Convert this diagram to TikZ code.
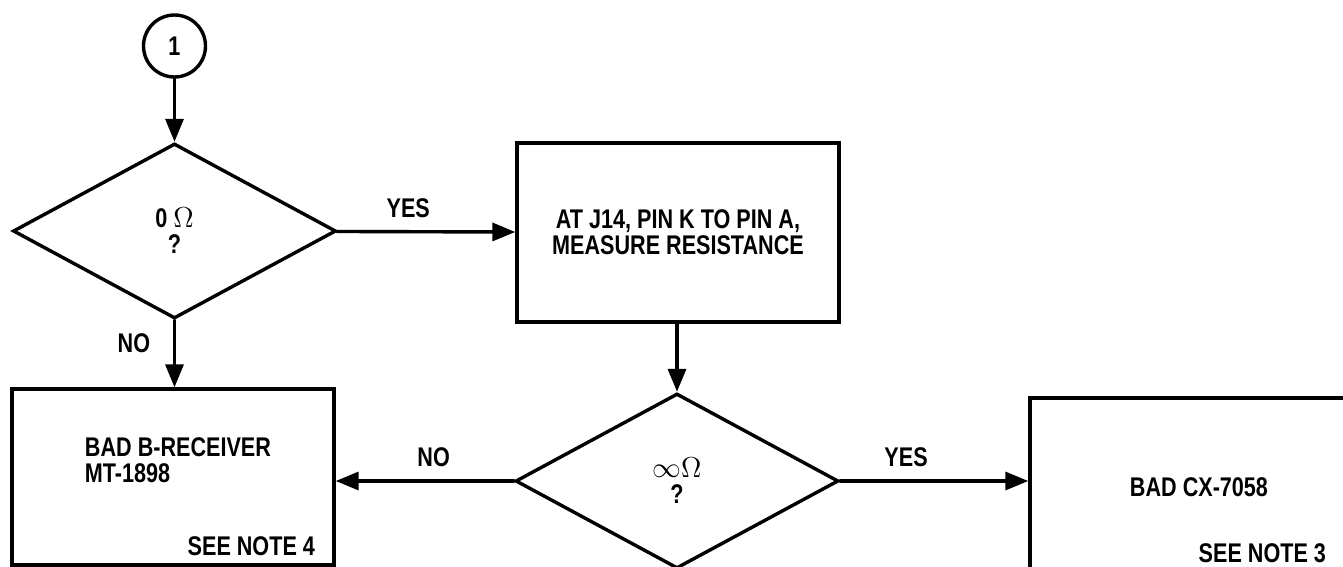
\documentclass[tikz,border=0pt]{standalone}
\usepackage{fontspec}
\setmainfont{Liberation Sans}[FakeStretch=0.8]
\usepackage{tikz}
\usetikzlibrary{arrows.meta,calc,positioning,shapes.geometric}
\tikzset{
  decv/.style={diamond, draw, line width=1.7pt, minimum width=161.5pt, minimum height=87.5pt, inner sep=0pt, align=center},
  boxv/.style={rectangle, draw, line width=1.7pt, inner sep=0pt, align=center},
  conv/.style={circle, draw, line width=1.7pt, minimum size=31pt, inner sep=0pt},
  flow/.style={line width=1.7pt, -{Triangle[length=11.5pt,width=9pt]}},
  lbl/.style={font=\bfseries\fontsize{13.5}{13}\selectfont},
  every picture/.style={line cap=round, line join=miter}
}

\begin{document}
\begin{tikzpicture}[x=0.5pt,y=-0.5pt]
  \useasboundingbox (0,0) rectangle (1343,567);

  % connector and first test
  \node[conv,lbl] (one) at (174.5,46) {1};
  \node[decv,lbl] (ohmz) at (174.5,231) {0 $\Omega$\\?};

  % measurement
  \node[boxv,lbl,minimum width=161pt,minimum height=89.5pt] (meas) at (678,232.5) {AT J14, PIN K TO PIN A,\\MEASURE RESISTANCE};
  \node[decv,lbl] (ohminf) at (677,481) {$\infty\Omega$\\?};

  % results
  \node[boxv,minimum width=161pt,minimum height=88pt] (rcvr) at (173,477) {};
  \node[lbl,align=left] (rcvrtxt) at (178,460) {BAD B-RECEIVER\\MT-1898};
  \node[lbl,anchor=base east] (note4) at (322,555) {SEE NOTE 4};

  \node[boxv,minimum width=167.5pt,minimum height=96pt] (cx) at (1197.5,494) {};
  \node[lbl] (cxtxt) at (1199,487) {BAD CX-7058};
  \node[lbl,anchor=base east] (note3) at (1333,562) {SEE NOTE 3};

  % flow
  \draw[flow] (one) -- (ohmz);
  \draw[flow] (ohmz) -- node[lbl,above=3pt,pos=0.4] {YES} (meas);
  \draw[flow] (ohmz) -- node[lbl,left=8pt,pos=0.35] {NO} (ohmz |- rcvr.north);
  \draw[flow] (meas.south -| ohminf) -- (ohminf);
  \draw[flow] (ohminf) -- node[lbl,above=3pt,pos=0.45] {NO} (rcvr.east |- ohminf);
  \draw[flow] (ohminf) -- node[lbl,above=3pt,pos=0.35] {YES} (cx.west |- ohminf);
\end{tikzpicture}
\end{document}
